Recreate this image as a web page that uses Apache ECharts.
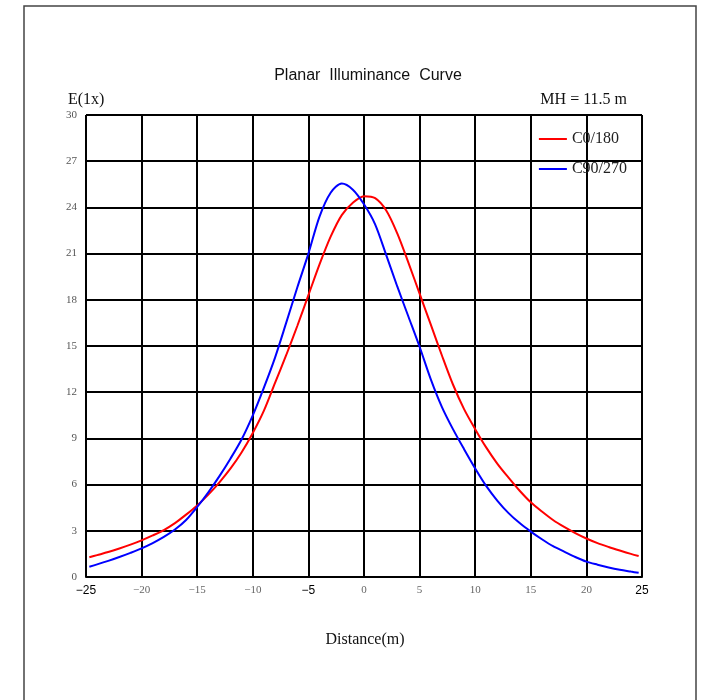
<!DOCTYPE html>
<html lang="en">
<head>
    <meta charset="UTF-8">
    <title>Planar Illuminance Curve</title>
    <script type="text/javascript" src="https://cdn.jsdelivr.net/npm/echarts@6/dist/echarts.min.js"></script>
    <style>html,body{margin:0;padding:0;background:#fff;}</style>
</head>
<body>
<div id="chart" style="width: 701px;height: 700px"></div>
</body>
</html>
<script type="text/javascript">
    // distance (m)
    var distance = [-24.7, -24, -23, -22, -21, -20, -19, -18, -17, -16, -15, -14, -13, -12, -11, -10, -9, -8, -7, -6, -5, -4, -3, -2, -1, 0,
        1, 2, 3, 4, 5, 6, 7, 8, 9, 10, 11, 12, 13, 14, 15, 16, 17, 18, 19, 20, 21, 22, 23, 24, 24.7];
    // C0/180 (lx)
    var c0 = [1.28, 1.42, 1.62, 1.85, 2.1, 2.38, 2.7, 3.05, 3.5, 4.05, 4.65, 5.35, 6.15, 7.05, 8.1, 9.35, 10.8, 12.6, 14.4, 16.3, 18.3, 20.3, 22.1, 23.5, 24.3, 24.72,
        24.6, 23.8, 22.3, 20.4, 18.4, 16.4, 14.4, 12.5, 10.9, 9.6, 8.4, 7.35, 6.45, 5.6, 4.85, 4.25, 3.7, 3.25, 2.85, 2.5, 2.2, 1.95, 1.72, 1.5, 1.36];
    // C90/270 (lx)
    var c90 = [0.67, 0.82, 1.05, 1.3, 1.57, 1.86, 2.2, 2.6, 3.08, 3.7, 4.55, 5.5, 6.55, 7.7, 8.95, 10.5, 12.3, 14.25, 16.5, 18.8, 21.0, 23.4, 24.95, 25.55, 25.15, 24.2,
        22.9, 20.9, 18.85, 16.9, 14.95, 12.85, 11.05, 9.6, 8.3, 7.05, 5.9, 4.95, 4.15, 3.5, 2.95, 2.45, 2.0, 1.65, 1.3, 1.0, 0.8, 0.62, 0.47, 0.35, 0.27];
    var seriesNames = ['C0/180', 'C90/270'];

    function pairs(xs, ys) {
        var out = [];
        for (var i = 0; i < xs.length; i++) out.push([xs[i], ys[i]]);
        return out;
    }

    var serif = 'Liberation Serif';
    var myChart = echarts.init(document.getElementById('chart'));
    var option = {
        animation: false,
        backgroundColor: '#fff',
        graphic: [
            {type: 'rect', shape: {x: 24, y: 6, width: 672, height: 720},
                style: {fill: null, stroke: '#444', lineWidth: 1.5}},
            {type: 'text', x: 368, y: 68,
                style: {text: 'Planar  Illuminance  Curve', font: '16px Liberation Sans', fill: '#111', textAlign: 'center'}},
            {type: 'text', x: 68, y: 92,
                style: {text: 'E(1x)', font: '16px ' + serif, fill: '#111'}},
            {type: 'text', x: 627, y: 92,
                style: {text: 'MH = 11.5 m', font: '16px ' + serif, fill: '#111', textAlign: 'right'}},
            {type: 'text', x: 365, y: 632,
                style: {text: 'Distance(m)', font: '16px ' + serif, fill: '#111', textAlign: 'center'}}
        ],
        legend: {
            right: 69,
            top: 126,
            orient: 'vertical',
            itemGap: 14,
            itemWidth: 28,
            itemHeight: 14,
            icon: 'path://M0,6L28,6L28,8L0,8Z',
            textStyle: {fontFamily: serif, fontSize: 16, color: '#222'},
            data: seriesNames
        },
        grid: {left: 86, right: 59, top: 115, bottom: 123},
        xAxis: {
            type: 'value',
            min: -25, max: 25, interval: 5,
            axisLine: {show: true, lineStyle: {color: '#000', width: 2}},
            axisTick: {show: false},
            splitLine: {show: true, lineStyle: {color: '#000', width: 2}},
            axisLabel: {
                margin: 8,
                formatter: function (v) {
                    var s = (v < 0 ? '\u2212' : '') + Math.abs(v);
                    if (v === -25 || v === -5 || v === 25) return '{b|' + s + '}';
                    return s;
                },
                fontFamily: serif, fontSize: 11, color: '#666',
                rich: {b: {fontFamily: 'Liberation Sans', fontSize: 12, color: '#000'}}
            }
        },
        yAxis: {
            type: 'value',
            min: 0, max: 30, interval: 3,
            axisLine: {show: true, lineStyle: {color: '#000', width: 2}},
            axisTick: {show: false},
            splitLine: {show: true, lineStyle: {color: '#000', width: 2}},
            axisLabel: {margin: 9, fontFamily: serif, fontSize: 11, color: '#555'}
        },
        series: [
            {
                name: seriesNames[0],
                type: 'line',
                smooth: 0.3,
                showSymbol: false,
                lineStyle: {color: '#ff0000', width: 2},
                itemStyle: {color: '#ff0000'},
                data: pairs(distance, c0),
                z: 3
            },
            {
                name: seriesNames[1],
                type: 'line',
                smooth: 0.3,
                showSymbol: false,
                lineStyle: {color: '#0000ff', width: 2},
                itemStyle: {color: '#0000ff'},
                data: pairs(distance, c90),
                z: 4
            }
        ]
    };
    myChart.setOption(option);
</script>
